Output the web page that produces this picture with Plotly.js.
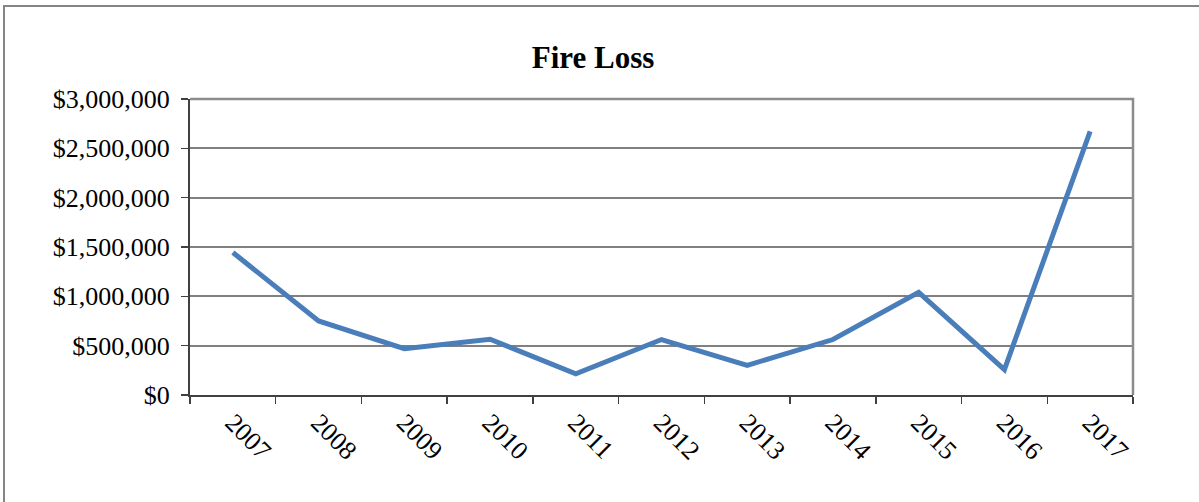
<!DOCTYPE html>
<html>
<head>
<meta charset="utf-8">
<script src="https://cdn.plot.ly/plotly-3.0.1.min.js"></script>
<style>
html,body{margin:0;padding:0;background:#fff;}
#chart{width:1199px;height:502px;}
</style>
</head>
<body>
<div id="chart"></div>
<script>
const years = ["2007","2008","2009","2010","2011","2012","2013","2014","2015","2016","2017"];
const fireLoss = [1445000, 750000, 470000, 565000, 215000, 562000, 301000, 562000, 1040000, 258000, 2672000];
const yTicks = [0, 500000, 1000000, 1500000, 2000000, 2500000, 3000000];
const yTickLabels = ["$0", "$500,000", "$1,000,000", "$1,500,000", "$2,000,000", "$2,500,000", "$3,000,000"];

const L = 190, R = 66, T = 99, B = 107, W = 1199, H = 502;
const pw = W - L - R, ph = H - T - B;
const px = v => (v - L) / pw;
const py = v => (H - B - v) / ph;

const font = {family: "Liberation Serif, Times New Roman, serif", color: "#000"};

const trace = {
  x: years,
  y: fireLoss,
  type: "scatter",
  mode: "lines",
  line: {color: "#4a7ebb", width: 5},
  hoverinfo: "skip"
};

const layout = {
  width: W, height: H,
  margin: {l: L, r: R, t: T, b: B, pad: 0},
  paper_bgcolor: "#fff",
  plot_bgcolor: "#fff",
  showlegend: false,
  font: Object.assign({size: 26}, font),
  title: {
    text: "<b>Fire Loss</b>",
    font: Object.assign({size: 31}, font),
    xref: "paper", x: px(593), xanchor: "center",
    yref: "container", y: 1 - 57/H, yanchor: "middle"
  },
  xaxis: {
    type: "category",
    range: [-0.5, 10.5],
    tickson: "boundaries",
    ticks: "outside",
    ticklen: 7,
    tickwidth: 1.5,
    tickcolor: "#404040",
    showline: true,
    linecolor: "#404040",
    linewidth: 2,
    showgrid: false,
    zeroline: false,
    tickangle: 45,
    tickfont: Object.assign({size: 26}, font),
    fixedrange: true
  },
  yaxis: {
    range: [0, 3000000],
    tickmode: "array",
    tickvals: yTicks,
    ticktext: yTickLabels,
    ticks: "outside",
    ticklen: 7,
    tickwidth: 1.5,
    tickcolor: "#404040",
    showline: true,
    linecolor: "#404040",
    linewidth: 2,
    showgrid: true,
    gridcolor: "#808080",
    gridwidth: 2,
    zeroline: false,
    ticklabelstandoff: 6,
    tickfont: Object.assign({size: 26}, font),
    fixedrange: true
  },
  shapes: [
    {type: "path", xref: "paper", yref: "paper",
     path: `M 0,1 L 1,1 L 1,0`,
     line: {color: "#8c8c8c", width: 2.5}, layer: "above"},
    {type: "path", xref: "paper", yref: "paper",
     path: `M ${px(4)},${py(H + 10)} L ${px(4)},${py(6)} L ${px(W + 10)},${py(6)}`,
     line: {color: "#858585", width: 2}, layer: "above"}
  ]
};

Plotly.newPlot("chart", [trace], layout, {staticPlot: true, displayModeBar: false});
</script>
</body>
</html>
